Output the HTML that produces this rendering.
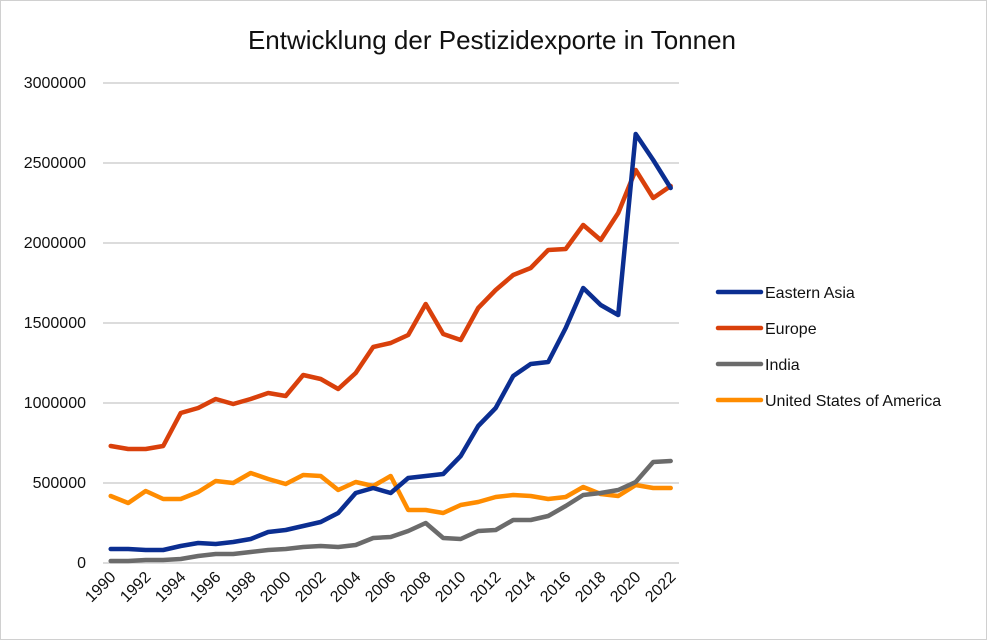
<!DOCTYPE html>
<html><head><meta charset="utf-8"><style>
html,body{margin:0;padding:0;background:#fff}
svg{display:block;font-family:"Liberation Sans",sans-serif}
</style></head><body>
<svg id="s" width="987" height="640" viewBox="0 0 987 640" xmlns="http://www.w3.org/2000/svg">
<rect x="0.5" y="0.5" width="986" height="639" fill="#fff" stroke="#d0d0d0"/>
<text x="492" y="49" font-size="26" text-anchor="middle" fill="#111">Entwicklung der Pestizidexporte in Tonnen</text>
<g stroke="#c8c8c8" stroke-width="1.3">
<line x1="103" x2="679" y1="83" y2="83"/><line x1="103" x2="679" y1="163" y2="163"/>
<line x1="103" x2="679" y1="243" y2="243"/><line x1="103" x2="679" y1="323" y2="323"/>
<line x1="103" x2="679" y1="403" y2="403"/><line x1="103" x2="679" y1="483" y2="483"/>
<line x1="103" x2="679" y1="563" y2="563"/>
</g>
<g font-size="16" fill="#111" text-anchor="end">
<text x="86" y="88">3000000</text><text x="86" y="168">2500000</text><text x="86" y="248">2000000</text>
<text x="86" y="328">1500000</text><text x="86" y="408">1000000</text><text x="86" y="488">500000</text>
<text x="86" y="568">0</text>
</g>
<g id="xl" font-size="16" fill="#111" text-anchor="end"></g>
<g id="lines" fill="none" stroke-width="4.5" stroke-linejoin="round" stroke-linecap="round"></g>
<g stroke-width="4.5" stroke-linecap="round">
<line x1="718" x2="761" y1="292" y2="292" stroke="#0b2e91"/>
<line x1="718" x2="761" y1="328" y2="328" stroke="#d9400b"/>
<line x1="718" x2="761" y1="364" y2="364" stroke="#6b6b6b"/>
<line x1="718" x2="761" y1="400" y2="400" stroke="#ff8c00"/>
</g>
<g font-size="16" fill="#111">
<text x="765" y="298">Eastern Asia</text><text x="765" y="334">Europe</text>
<text x="765" y="370">India</text><text x="765" y="406">United States of America</text>
</g>
</svg>
<script>
var ns="http://www.w3.org/2000/svg";
function X(i){return 110.7+i*17.5;}
var data=[
["#ff8c00",[496,503,491,499,499,492,481,483,473,479,484,475,476,490,482,486,476,510,510,513,505,502,497,495,496,499,497,487,494,496,485,488,488]],
["#6b6b6b",[561,561,560,560,559,556,554,554,552,550,549,547,546,547,545,538,537,531,523,538,539,531,530,520,520,516,506,495,493,490,482,462,461]],
["#d9400b",[446,449,449,446,413,408,399,404,399,393,396,375,379,389,373,347,343,335,304,334,340,308,290,275,268,250,249,225,240,213,170,198,186]],
["#0b2e91",[549,549,550,550,546,543,544,542,539,532,530,526,522,513,493,488,493,478,476,474,456,426,408,376,364,362,328,288,305,315,134,160,188]]
];
var g=document.getElementById("lines");
data.forEach(function(d){var p=document.createElementNS(ns,"polyline");
p.setAttribute("points",d[1].map(function(y,i){return X(i)+","+y}).join(" "));
p.setAttribute("stroke",d[0]);g.appendChild(p);});
var xl=document.getElementById("xl");
for(var i=0;i<=32;i+=2){var t=document.createElementNS(ns,"text");var x=X(i)+6,y=578;
t.setAttribute("transform","translate("+x+","+y+") rotate(-45)");t.textContent=1990+i;xl.appendChild(t);}
</script>
</body></html>
